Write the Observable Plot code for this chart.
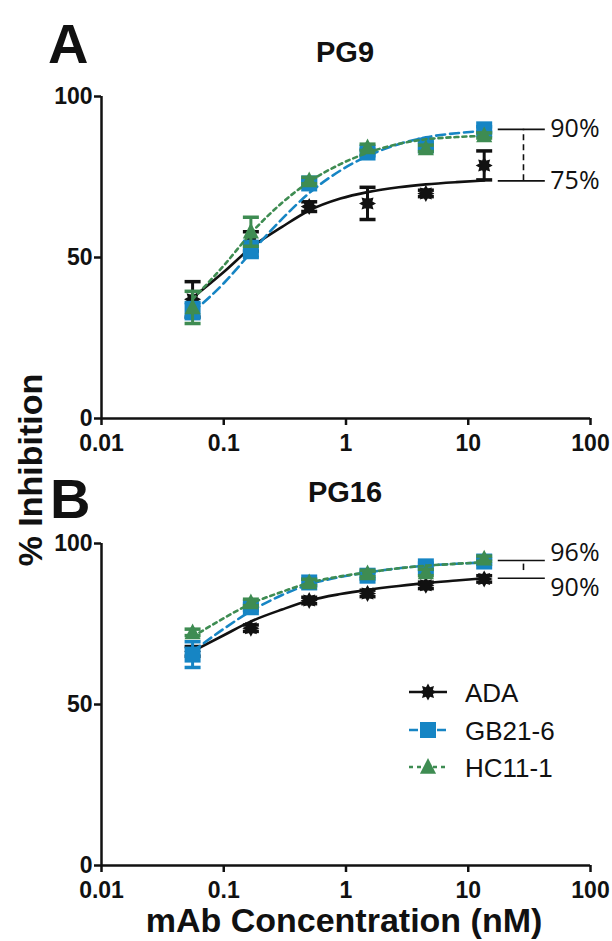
<!DOCTYPE html>
<html><head><meta charset="utf-8">
<script src="https://cdn.jsdelivr.net/npm/d3@7"></script>
<script src="https://cdn.jsdelivr.net/npm/@observablehq/plot@0.6"></script>
<style>
body{margin:0;background:#fff;}
#fig{position:relative;width:612px;height:941px;overflow:hidden;background:#fff;}
#fig svg{position:absolute;left:0;}
</style></head><body><div id="fig"></div>
<script>
// ---- data ----
const series = ["ADA", "GB21-6", "HC11-1"];
const conc = [0.0556, 0.1667, 0.5, 1.5, 4.5, 13.5];
const xTicks = [0.01, 0.1, 1, 10, 100];
const xTickLabels = ["0.01", "0.1", "1", "10", "100"];
const yTicks = [0, 50, 100];

// PG9 (panel A)
const pg9_ADA = [37, 55, 65.8, 66.8, 69.9, 78.6];
const pg9_ADA_err = [5.5, 3, 1.5, 5, 1, 4.5];
const pg9_GB = [33.5, 52.5, 73, 82.6, 84.8, 89.8];
const pg9_GB_err = [2.5, 2.5, 1, 1, 1, 0.8];
const pg9_HC = [34.5, 58, 73.9, 84.2, 83.9, 87.9];
const pg9_HC_err = [5, 4.5, 1, 1, 1, 0.8];

// PG16 (panel B)
const pg16_ADA = [66.5, 73.7, 82.3, 84.5, 87, 89];
const pg16_ADA_err = [1.5, 1, 1, 1, 1, 1];
const pg16_GB = [65.5, 80.2, 87.9, 90, 92.9, 94.4];
const pg16_GB_err = [4, 1, 1, 1, 1, 0.8];
const pg16_HC = [72.4, 81.7, 87.9, 90.7, 91, 95.3];
const pg16_HC_err = [1, 1, 1, 1, 1, 0.8];

// fitted curves
const fitX = [0.0556, 0.1, 0.1667, 0.3, 0.5, 0.9, 1.5, 2.7, 4.5, 8, 13.5];
const pg9_ADA_fit = [37.5, 45.5, 53, 59.5, 64.6, 68.3, 70.3, 71.8, 72.7, 73.4, 73.9];
const pg9_GB_fit = [33, 42, 51.5, 62, 70, 77, 81.5, 85.2, 87.3, 88.6, 89.3];
const pg9_HC_fit = [37, 47.5, 57.5, 67, 73.5, 79, 82.5, 85.3, 86.7, 87.4, 87.8];
const pg16_ADA_fit = [66.5, 71.5, 75.8, 79.5, 82.3, 84.3, 85.6, 86.8, 87.7, 88.5, 89.2];
const pg16_GB_fit = [66.5, 73.5, 79, 84, 87.3, 89.6, 91, 92.3, 93.1, 93.7, 94.1];
const pg16_HC_fit = [71, 76.8, 81.3, 85, 87.8, 89.8, 91, 92.3, 93.1, 93.7, 94.2];

// plateau annotations
const pg9_plateau = [89.8, 73.8];
const pg9_plateauLabels = ["90%", "75%"];
const pg16_plateau = [94.7, 89.2];
const pg16_plateauLabels = ["96%", "90%"];
const plateauX = [17.6, 42.7];
const plateauMid = 28.3;
const pg16_midTick = [91.6, 93.6];

// ---- styles ----
const colors = {"ADA": "#111111", "GB21-6": "#1685c4", "HC11-1": "#3e8c52"};
const dashes = {"ADA": null, "GB21-6": "9,5", "HC11-1": "4,4"};
const BOLD = "'Liberation Sans', Arial, sans-serif";

const burst = {draw(ctx, size) {
  const R = Math.sqrt(size / Math.PI), r = R * 0.62;
  for (let i = 0; i < 16; i++) {
    const a = i * Math.PI / 8 - Math.PI / 2, rr = i % 2 ? r : R;
    const px = rr * Math.cos(a), py = rr * Math.sin(a);
    i ? ctx.lineTo(px, py) : ctx.moveTo(px, py);
  }
  ctx.closePath();
}};
const square = {draw(ctx, size) {
  const h = Math.sqrt(size / Math.PI);
  ctx.rect(-h, -h, 2 * h, 2 * h);
}};
const tri = {draw(ctx, size) {
  const R = Math.sqrt(size / Math.PI);
  ctx.moveTo(0, -R * 1.05); ctx.lineTo(R * 0.95, R * 0.8); ctx.lineTo(-R * 0.95, R * 0.8); ctx.closePath();
}};
const cap = {draw(ctx, size) {
  const w = Math.sqrt(size / Math.PI);
  ctx.moveTo(-w, 0); ctx.lineTo(w, 0);
}};
const symbols = {"ADA": [burst, 8.5], "GB21-6": [square, 8], "HC11-1": [tri, 8.5]};

function seriesMarks(name, ys, errs, fit) {
  const pts = conc.map((x, i) => ({x, y: ys[i], e: errs[i]}));
  const fitPts = fitX.map((x, i) => ({x, y: fit[i]}));
  const c = colors[name];
  return [
    Plot.line(fitPts, {x: "x", y: "y", curve: "monotone-x", stroke: c, strokeWidth: 2.6, strokeDasharray: dashes[name]}),
    Plot.ruleX(pts, {x: "x", y1: d => d.y - d.e, y2: d => d.y + d.e, stroke: c, strokeWidth: 3}),
    Plot.dot(pts, {x: "x", y: d => d.y + d.e, symbol: cap, r: 8, stroke: c, strokeWidth: 3.5, fill: "none"}),
    Plot.dot(pts, {x: "x", y: d => d.y - d.e, symbol: cap, r: 8, stroke: c, strokeWidth: 3.5, fill: "none"}),
    Plot.dot(pts, {x: "x", y: "y", symbol: symbols[name][0], r: symbols[name][1], fill: c, stroke: "none"})
  ];
}

function panel({height, marginTop, marginBottom, data, plateau, plateauLabels, midTick, labelDy}) {
  return Plot.plot({
    width: 612, height, marginTop, marginBottom, marginLeft: 101, marginRight: 22,
    style: {fontFamily: BOLD, fontWeight: "bold", fontSize: "23px", color: "#111", background: "transparent", overflow: "visible"},
    x: {type: "log", domain: [0.01, 100]},
    y: {domain: [0, 100]},
    marks: [
      Plot.axisX(xTicks, {tickFormat: d => xTickLabels[xTicks.indexOf(d)], tickSize: 7, tickPadding: 9, strokeWidth: 2.5, fontSize: 23, fontWeight: "bold", label: null}),
      Plot.axisY(yTicks, {tickSize: 7, tickPadding: 2, strokeWidth: 2.5, fontSize: 23, fontWeight: "bold", label: null}),
      Plot.ruleY([0], {strokeWidth: 2.5}),
      Plot.ruleX([0.01], {strokeWidth: 2.5}),
      ...plateau.map(v => Plot.ruleY([v], {x1: plateauX[0], x2: plateauX[1], stroke: "#111", strokeWidth: 1.6})),
      midTick
        ? Plot.ruleX([plateauMid], {y1: midTick[0], y2: midTick[1], stroke: "#111", strokeWidth: 1.6})
        : Plot.ruleX([plateauMid], {y1: plateau[1], y2: plateau[0], stroke: "#111", strokeWidth: 1.6, strokeDasharray: "6,4"}),
      ...plateau.map((v, i) => Plot.text([plateauLabels[i]], {x: plateauX[1], y: v, text: d => d, textAnchor: "start", dx: 5, dy: labelDy[i], fontSize: 25, fontWeight: "normal", fontFamily: "'Open Sans', sans-serif", fill: "#111"})),
      ...series.flatMap((s, k) => seriesMarks(s, data[k][0], data[k][1], data[k][2]))
    ]
  });
}

const fig = document.getElementById("fig");
const A = panel({height: 460, marginTop: 96, marginBottom: 42,
  data: [[pg9_ADA, pg9_ADA_err, pg9_ADA_fit], [pg9_GB, pg9_GB_err, pg9_GB_fit], [pg9_HC, pg9_HC_err, pg9_HC_fit]],
  plateau: pg9_plateau, plateauLabels: pg9_plateauLabels, midTick: null, labelDy: [0, 0]});
A.style.top = "0px";
fig.appendChild(A);
const B = panel({height: 481, marginTop: 83, marginBottom: 76,
  data: [[pg16_ADA, pg16_ADA_err, pg16_ADA_fit], [pg16_GB, pg16_GB_err, pg16_GB_fit], [pg16_HC, pg16_HC_err, pg16_HC_fit]],
  plateau: pg16_plateau, plateauLabels: pg16_plateauLabels, midTick: pg16_midTick, labelDy: [-8, 10]});
B.style.top = "460px";
fig.appendChild(B);

// ---- annotation overlay (titles, labels, legend) ----
const ov = d3.select(fig).append("svg").attr("width", 612).attr("height", 941).style("top", "0px")
  .style("font-family", BOLD).attr("fill", "#111");
const T = [
  {t: "A", x: 48, y: 63, s: 56, a: "start"},
  {t: "PG9", x: 345, y: 62, s: 29, a: "middle"},
  {t: "B", x: 50, y: 518, s: 56, a: "start"},
  {t: "PG16", x: 345, y: 502, s: 29, a: "middle"},
  {t: "mAb Concentration (nM)", x: 344, y: 932, s: 34, a: "middle"}
];
T.forEach(d => ov.append("text").attr("x", d.x).attr("y", d.y).attr("font-size", d.s).attr("font-weight", "bold").attr("text-anchor", d.a).text(d.t));
ov.append("text").attr("transform", "translate(42,470) rotate(-90)").attr("font-size", 34).attr("font-weight", "bold").attr("text-anchor", "middle").text("% Inhibition");

const legY = [692, 730, 767];
series.forEach((s, i) => {
  const g = ov.append("g").attr("transform", `translate(428,${legY[i]})`);
  g.append("line").attr("x1", -19).attr("x2", 19).attr("stroke", colors[s]).attr("stroke-width", 2.6).attr("stroke-dasharray", dashes[s]);
  const [sym, r] = symbols[s];
  g.append("path").attr("d", d3.symbol(sym, Math.PI * r * r)()).attr("fill", colors[s]);
  ov.append("text").attr("x", 465).attr("y", legY[i] + 9.5).attr("font-size", 26).attr("font-weight", "normal").text(s);
});
</script></body></html>
